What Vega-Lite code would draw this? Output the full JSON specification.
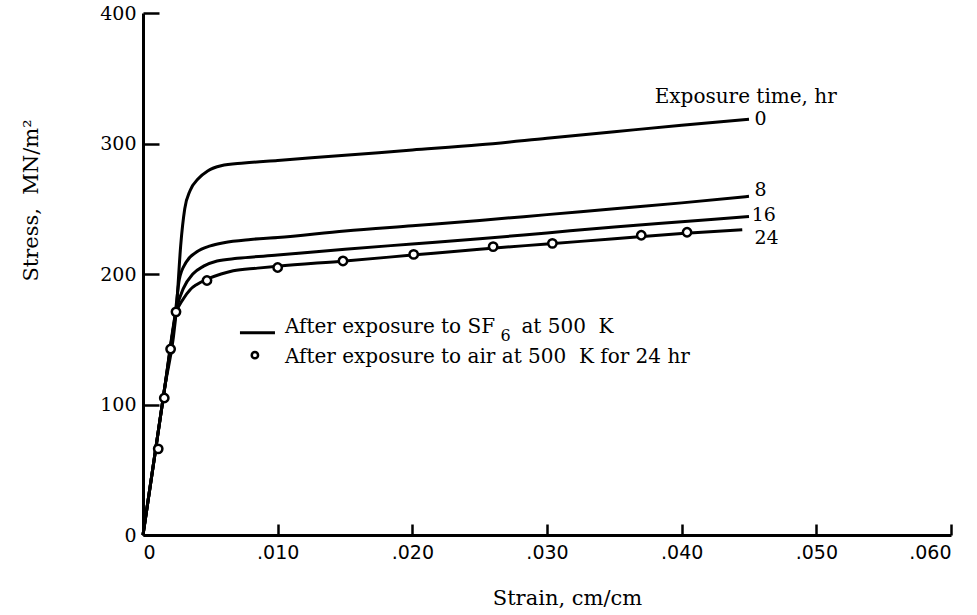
{
  "$schema": "https://vega.github.io/schema/vega-lite/v6.json",
  "autosize": {"type": "none"},
  "width": 808,
  "height": 522,
  "padding": {"left": 143, "top": 13, "right": 26, "bottom": 80},
  "background": "white",
  "config": {
    "view": {"stroke": null},
    "axis": {
      "grid": false,
      "domainColor": "black",
      "domainWidth": 3,
      "tickColor": "black",
      "tickWidth": 2.5,
      "labelColor": "black",
      "titleColor": "black",
      "labelFont": "DejaVu Serif",
      "titleFont": "DejaVu Serif",
      "titleFontWeight": "normal",
      "labelFontSize": 19,
      "titleFontSize": 21
    },
    "text": {"font": "DejaVu Serif", "fontSize": 20, "color": "black"}
  },
  "datasets": {
    "curves": [
      {"strain": 0, "stress": 0, "hours": "0"},
      {"strain": 0.0008, "stress": 56, "hours": "0"},
      {"strain": 0.0016, "stress": 112, "hours": "0"},
      {"strain": 0.0025, "stress": 176, "hours": "0"},
      {"strain": 0.0028, "stress": 222, "hours": "0"},
      {"strain": 0.0031, "stress": 250, "hours": "0"},
      {"strain": 0.0035, "stress": 264, "hours": "0"},
      {"strain": 0.0041, "stress": 273, "hours": "0"},
      {"strain": 0.0048, "stress": 279, "hours": "0"},
      {"strain": 0.0058, "stress": 283, "hours": "0"},
      {"strain": 0.0075, "stress": 285, "hours": "0"},
      {"strain": 0.010, "stress": 287, "hours": "0"},
      {"strain": 0.015, "stress": 291, "hours": "0"},
      {"strain": 0.020, "stress": 295, "hours": "0"},
      {"strain": 0.025, "stress": 299, "hours": "0"},
      {"strain": 0.030, "stress": 304, "hours": "0"},
      {"strain": 0.035, "stress": 309, "hours": "0"},
      {"strain": 0.040, "stress": 314, "hours": "0"},
      {"strain": 0.045, "stress": 318.5, "hours": "0"},
      {"strain": 0, "stress": 0, "hours": "8"},
      {"strain": 0.0008, "stress": 56, "hours": "8"},
      {"strain": 0.0016, "stress": 112, "hours": "8"},
      {"strain": 0.0024, "stress": 170, "hours": "8"},
      {"strain": 0.0027, "stress": 196, "hours": "8"},
      {"strain": 0.0032, "stress": 209, "hours": "8"},
      {"strain": 0.004, "stress": 217, "hours": "8"},
      {"strain": 0.005, "stress": 221.5, "hours": "8"},
      {"strain": 0.006, "stress": 224, "hours": "8"},
      {"strain": 0.008, "stress": 226.5, "hours": "8"},
      {"strain": 0.010, "stress": 228, "hours": "8"},
      {"strain": 0.015, "stress": 233, "hours": "8"},
      {"strain": 0.020, "stress": 237, "hours": "8"},
      {"strain": 0.025, "stress": 241, "hours": "8"},
      {"strain": 0.030, "stress": 245.5, "hours": "8"},
      {"strain": 0.035, "stress": 250, "hours": "8"},
      {"strain": 0.040, "stress": 254.5, "hours": "8"},
      {"strain": 0.045, "stress": 259.5, "hours": "8"},
      {"strain": 0, "stress": 0, "hours": "16"},
      {"strain": 0.0008, "stress": 56, "hours": "16"},
      {"strain": 0.0016, "stress": 112, "hours": "16"},
      {"strain": 0.0025, "stress": 174, "hours": "16"},
      {"strain": 0.003, "stress": 189, "hours": "16"},
      {"strain": 0.0037, "stress": 200, "hours": "16"},
      {"strain": 0.0045, "stress": 206, "hours": "16"},
      {"strain": 0.0055, "stress": 210, "hours": "16"},
      {"strain": 0.007, "stress": 212, "hours": "16"},
      {"strain": 0.010, "stress": 214.5, "hours": "16"},
      {"strain": 0.015, "stress": 219, "hours": "16"},
      {"strain": 0.020, "stress": 223, "hours": "16"},
      {"strain": 0.025, "stress": 227, "hours": "16"},
      {"strain": 0.030, "stress": 231.5, "hours": "16"},
      {"strain": 0.035, "stress": 236, "hours": "16"},
      {"strain": 0.040, "stress": 240, "hours": "16"},
      {"strain": 0.045, "stress": 244, "hours": "16"},
      {"strain": 0, "stress": 0, "hours": "24"},
      {"strain": 0.0008, "stress": 56, "hours": "24"},
      {"strain": 0.0016, "stress": 112, "hours": "24"},
      {"strain": 0.0025, "stress": 171, "hours": "24"},
      {"strain": 0.003, "stress": 181, "hours": "24"},
      {"strain": 0.0035, "stress": 188, "hours": "24"},
      {"strain": 0.004, "stress": 192, "hours": "24"},
      {"strain": 0.00475, "stress": 196, "hours": "24"},
      {"strain": 0.0058, "stress": 200, "hours": "24"},
      {"strain": 0.0067, "stress": 202.5, "hours": "24"},
      {"strain": 0.0085, "stress": 204.5, "hours": "24"},
      {"strain": 0.010, "stress": 206, "hours": "24"},
      {"strain": 0.015, "stress": 210, "hours": "24"},
      {"strain": 0.020, "stress": 214.5, "hours": "24"},
      {"strain": 0.025, "stress": 219, "hours": "24"},
      {"strain": 0.030, "stress": 223, "hours": "24"},
      {"strain": 0.035, "stress": 227, "hours": "24"},
      {"strain": 0.040, "stress": 231, "hours": "24"},
      {"strain": 0.0445, "stress": 234, "hours": "24"}
    ],
    "air": [
      {"strain": 0.00113, "stress": 66},
      {"strain": 0.00158, "stress": 105},
      {"strain": 0.00205, "stress": 142.5},
      {"strain": 0.00245, "stress": 171},
      {"strain": 0.00475, "stress": 195},
      {"strain": 0.0100, "stress": 205},
      {"strain": 0.01485, "stress": 210},
      {"strain": 0.0201, "stress": 215},
      {"strain": 0.0260, "stress": 221},
      {"strain": 0.0304, "stress": 223.5},
      {"strain": 0.0370, "stress": 229.7},
      {"strain": 0.0404, "stress": 232}
    ],
    "curveLabels": [
      {"strain": 0.0454, "stress": 318.5, "label": "0"},
      {"strain": 0.0454, "stress": 264.2, "label": "8"},
      {"strain": 0.0452, "stress": 245.4, "label": "16"},
      {"strain": 0.0454, "stress": 227.8, "label": "24"}
    ],
    "notes": [
      {"strain": 0.0380, "stress": 330.8, "label": "Exposure time, hr"},
      {"strain": 0.01054, "stress": 154.7, "label": "After exposure to SF"},
      {"strain": 0.02810, "stress": 154.7, "label": "at 500\u00a0 K"},
      {"strain": 0.01054, "stress": 131.7, "label": "After exposure to air at 500\u00a0 K for 24 hr"}
    ],
    "subscript": [
      {"strain": 0.02655, "stress": 148.5, "label": "6"}
    ],
    "keyLine": [{"strain": 0.0072, "strain2": 0.0098, "stress": 154.9}],
    "keyDot": [{"strain": 0.00831, "stress": 137.8}]
  },
  "encoding": {
    "x": {
      "field": "strain",
      "type": "quantitative",
      "scale": {"domain": [0, 0.06], "nice": false, "zero": true},
      "axis": {
        "title": "Strain, cm/cm",
        "values": [0, 0.01, 0.02, 0.03, 0.04, 0.05, 0.06],
        "labelExpr": "datum.value == 0 ? '0' : slice(format(datum.value, '.3f'), 1)",
        "labelFont": "DejaVu Sans",
        "labelFontSize": 19,
        "tickSize": -11,
        "labelPadding": 19,
        "titleX": 424,
        "titleY": 69,
        "titleBaseline": "alphabetic",
        "titleAnchor": "middle",
        "titleAlign": "center"
      }
    },
    "y": {
      "field": "stress",
      "type": "quantitative",
      "scale": {"domain": [0, 400], "nice": false},
      "axis": {
        "title": "Stress,\u00a0 MN/m²",
        "values": [0, 100, 200, 300, 400],
        "tickSize": -16,
        "labelPadding": 23,
        "titleX": -106,
        "titleY": 187,
        "titleAngle": -90,
        "titleBaseline": "alphabetic",
        "titleAlign": "center",
        "titleAnchor": "middle"
      }
    }
  },
  "layer": [
    {
      "data": {"name": "curves"},
      "mark": {"type": "line", "color": "black", "strokeWidth": 3, "interpolate": "monotone"},
      "encoding": {"detail": {"field": "hours"}}
    },
    {
      "data": {"name": "air"},
      "mark": {"type": "point", "shape": "circle", "filled": true, "fill": "white", "stroke": "black", "strokeWidth": 2.5, "size": 70, "opacity": 1}
    },
    {
      "data": {"name": "keyLine"},
      "mark": {"type": "rule", "color": "black", "strokeWidth": 3},
      "encoding": {"x2": {"field": "strain2"}}
    },
    {
      "data": {"name": "keyDot"},
      "mark": {"type": "point", "shape": "circle", "filled": true, "fill": "white", "stroke": "black", "strokeWidth": 2.5, "size": 40, "opacity": 1}
    },
    {
      "data": {"name": "curveLabels"},
      "mark": {"type": "text", "align": "left", "baseline": "middle", "fontSize": 19},
      "encoding": {"text": {"field": "label"}}
    },
    {
      "data": {"name": "notes"},
      "mark": {"type": "text", "align": "left", "baseline": "alphabetic"},
      "encoding": {"text": {"field": "label"}}
    },
    {
      "data": {"name": "subscript"},
      "mark": {"type": "text", "align": "left", "baseline": "alphabetic", "fontSize": 16},
      "encoding": {"text": {"field": "label"}}
    }
  ]
}
